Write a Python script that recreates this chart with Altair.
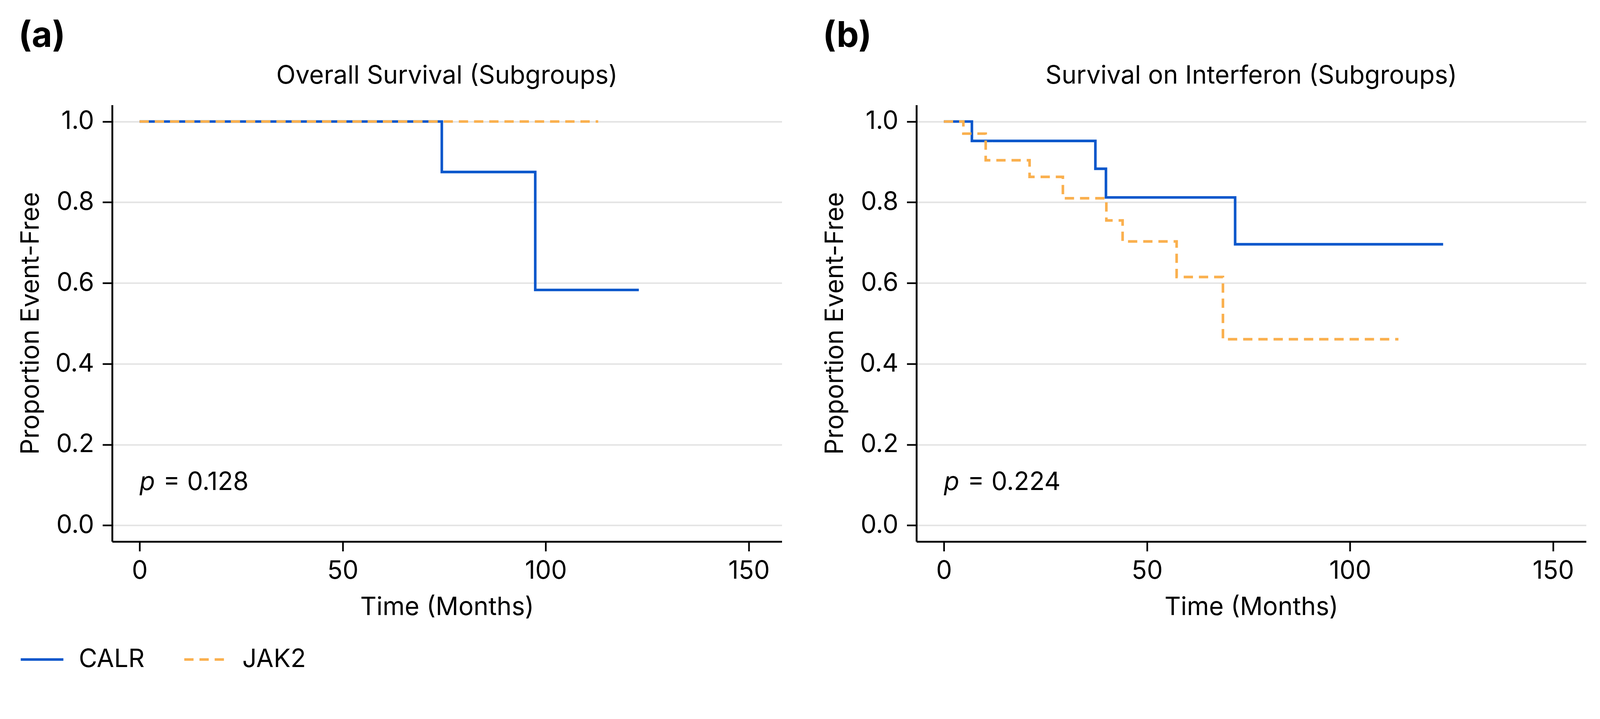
import altair as alt
import pandas as pd

# ---------------- data ----------------
groups = ["CALR", "JAK2"]
group_colors = ["#0B57CB", "#FAB04E"]

# Panel (a): Overall survival
a_calr_time = [0, 74.4, 97.4, 122.9]
a_calr_surv = [1.0, 0.875, 0.583, 0.583]
a_jak2_time = [0, 112.9]
a_jak2_surv = [1.0, 1.0]

# Panel (b): Survival on interferon
b_calr_time = [0, 6.9, 37.3, 39.9, 71.7, 122.9]
b_calr_surv = [1.0, 0.952, 0.883, 0.812, 0.696, 0.696]
b_jak2_time = [0, 4.8, 10.3, 21.1, 29.3, 40.0, 44.0, 57.3, 68.7, 111.9]
b_jak2_surv = [1.0, 0.970, 0.904, 0.863, 0.810, 0.755, 0.703, 0.615, 0.461, 0.461]

panel_titles = ["Overall Survival (Subgroups)", "Survival on Interferon (Subgroups)"]
panel_labels = ["(a)", "(b)"]
p_texts = ["= 0.128", "= 0.224"]
p_pos = [0, 0.088]  # x (months), y (proportion) of the p-value annotation

x_ticks = [0, 50, 100, 150]
y_ticks = [0.0, 0.2, 0.4, 0.6, 0.8, 1.0]
x_domain = [-6.75, 158.1]
y_domain = [-0.04, 1.041]

FONT = "Inter"
FS = 68
W, H = 1806, 1177

x_scale = alt.Scale(domain=x_domain, nice=False, zero=False)
y_scale = alt.Scale(domain=y_domain, nice=False, zero=False)
color_scale = alt.Scale(domain=groups, range=group_colors)
dash_scale = alt.Scale(domain=groups, range=[[1, 0], [25, 16]])


def panel(calr_t, calr_s, jak2_t, jak2_s, title, p_text, show_legend):
    df = pd.DataFrame({
        "time": calr_t + jak2_t,
        "surv": calr_s + jak2_s,
        "group": ["CALR"] * len(calr_t) + ["JAK2"] * len(jak2_t),
    })
    if show_legend:
        leg = alt.Legend(
            title=None, orient="none", legendX=-250, legendY=1434,
            direction="horizontal", symbolType="stroke", symbolSize=13225,
            symbolStrokeWidth=7, labelFont=FONT, labelFontSize=FS,
            labelColor="black", labelOffset=38, columnPadding=92,
            padding=0, labelLimit=0)
    else:
        leg = None
    enc = dict(
        x=alt.X("time:Q", scale=x_scale,
                axis=alt.Axis(values=x_ticks, title="Time (Months)", grid=False)),
        y=alt.Y("surv:Q", scale=y_scale,
                axis=alt.Axis(values=y_ticks, format=".1f",
                              title="Proportion Event-Free", grid=True)),
        color=alt.Color("group:N", scale=color_scale, legend=leg),
        strokeDash=alt.StrokeDash("group:N", scale=dash_scale, legend=leg),
    )
    base = alt.Chart(df)
    layers = []
    for g in groups:
        layers.append(
            base.transform_filter(alt.datum.group == g)
            .mark_line(interpolate="step-after", strokeWidth=7, strokeCap="butt")
            .encode(**enc)
        )
    pdf = pd.DataFrame({"x": [p_pos[0]], "y": [p_pos[1]], "t": [p_text]})
    p_italic = alt.Chart(pdf).mark_text(
        text="p", font=FONT, fontSize=FS, fontStyle="italic",
        align="left", baseline="alphabetic", color="black"
    ).encode(x=alt.X("x:Q", scale=x_scale), y=alt.Y("y:Q", scale=y_scale))
    p_rest = alt.Chart(pdf).mark_text(
        font=FONT, fontSize=FS, align="left", baseline="alphabetic",
        dx=64, color="black"
    ).encode(x=alt.X("x:Q", scale=x_scale), y=alt.Y("y:Q", scale=y_scale),
             text="t:N")
    return alt.layer(*layers, p_italic, p_rest).properties(
        width=W, height=H,
        title=alt.TitleParams(
            text=title, font=FONT, fontSize=FS, fontWeight="normal",
            anchor="middle", frame="group", offset=43, color="black"),
    )


pa = panel(a_calr_time, a_calr_surv, a_jak2_time, a_jak2_surv,
           panel_titles[0], p_texts[0], True)
pb = panel(b_calr_time, b_calr_surv, b_jak2_time, b_jak2_surv,
           panel_titles[1], p_texts[1], False)


def labelled(ch, lab):
    return alt.vconcat(ch).properties(
        title=alt.TitleParams(
            text=lab, font=FONT, fontSize=95, fontWeight="bold",
            anchor="start", frame="bounds", offset=25, color="black")
    ).resolve_scale(color="independent", strokeDash="independent")


chart = alt.hconcat(labelled(pa, panel_labels[0]), labelled(pb, panel_labels[1]),
                    spacing=110).resolve_scale(
    color="independent", strokeDash="independent"
).configure(
    font=FONT,
    padding={"left": 41, "top": -5, "right": 29, "bottom": 22},
).configure_view(
    stroke=None
).configure_axis(
    domainColor="black", domainWidth=5,
    tickColor="black", tickWidth=4.5, tickSize=26,
    labelFont=FONT, labelFontSize=FS, labelColor="black",
    titleFont=FONT, titleFontSize=FS, titleFontWeight="normal",
    titleColor="black", gridColor="#e3e3e3", gridWidth=4,
    labelFlush=False,
).configure_axisX(
    labelPadding=20, titlePadding=30,
).configure_axisY(
    labelPadding=23, titlePadding=31,
)

chart.save("out.html", embed_options={"renderer": "svg", "actions": False})
